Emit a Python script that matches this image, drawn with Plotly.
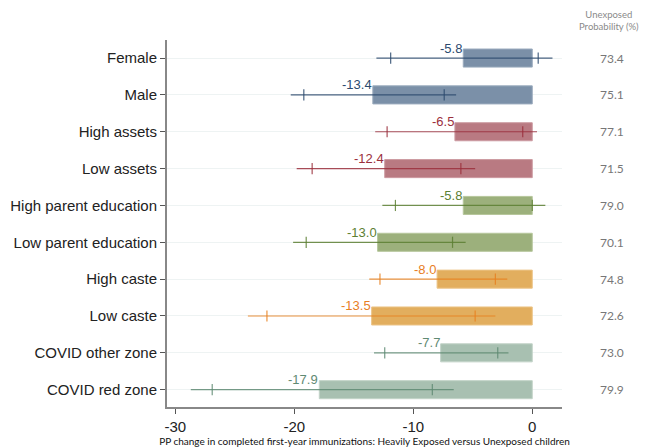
import plotly.graph_objects as go

# データ
categories = [
    "Female", "Male", "High assets", "Low assets",
    "High parent education", "Low parent education",
    "High caste", "Low caste", "COVID other zone", "COVID red zone",
]
estimates = [-5.8, -13.4, -6.5, -12.4, -5.8, -13.0, -8.0, -13.5, -7.7, -17.9]
ci_outer_lo = [-13.1, -20.3, -13.2, -19.8, -12.6, -20.1, -13.7, -23.9, -13.3, -28.7]
ci_outer_hi = [1.7, -6.4, 0.4, -4.8, 1.1, -5.6, -2.1, -3.1, -2.0, -6.6]
ci_inner_lo = [-11.9, -19.2, -12.2, -18.5, -11.5, -19.0, -12.8, -22.3, -12.4, -26.9]
ci_inner_hi = [0.5, -7.4, -0.8, -6.0, 0.0, -6.7, -3.1, -4.8, -2.9, -8.4]
unexposed_prob = [73.4, 75.1, 77.1, 71.5, 79.0, 70.1, 74.8, 72.6, 73.0, 79.9]

# 色（グループごと）
bar_colors = ['#7b90a8', '#7b90a8', '#b97a82', '#b97a82', '#9cb07c', '#9cb07c',
              '#e2ae5e', '#e2ae5e', '#a8c0b1', '#a8c0b1']
edge_colors = ['#9aabbd', '#9aabbd', '#cc9aa1', '#cc9aa1', '#b6c69c', '#b6c69c',
               '#ecc487', '#ecc487', '#c2d3c8', '#c2d3c8']
line_colors = ['#2c4a6e', '#2c4a6e', '#9b2f3c', '#9b2f3c', '#5c7f33', '#5c7f33',
               '#e8801f', '#e8801f', '#5f8a73', '#5f8a73']

fig = go.Figure()

# 棒
fig.add_trace(go.Bar(
    x=estimates,
    y=categories,
    orientation='h',
    width=0.49,
    marker=dict(color=bar_colors, line=dict(color=edge_colors, width=1)),
    showlegend=False,
    hoverinfo='skip',
))

# 信頼区間
for i, cat in enumerate(categories):
    fig.add_trace(go.Scatter(
        x=[ci_outer_lo[i], ci_outer_hi[i]],
        y=[cat, cat],
        mode='lines',
        line=dict(color=line_colors[i], width=1.2),
        opacity=0.85,
        showlegend=False,
        hoverinfo='skip',
    ))
    fig.add_trace(go.Scatter(
        x=[ci_inner_lo[i], ci_inner_hi[i]],
        y=[cat, cat],
        mode='markers',
        marker=dict(symbol='line-ns', size=8,
                    line=dict(color=line_colors[i], width=1.2)),
        opacity=0.85,
        showlegend=False,
        hoverinfo='skip',
    ))

# 数値ラベル
for i, cat in enumerate(categories):
    fig.add_annotation(
        x=estimates[i], y=cat,
        text=f"{estimates[i]:.1f}",
        showarrow=False,
        xanchor='right', yanchor='middle',
        xshift=1, yshift=10,
        font=dict(family='Liberation Sans, Arial', size=13, color=line_colors[i]),
    )

# 右側の確率
fig.add_annotation(
    x=1.12, y=1.0, xref='paper', yref='paper', yshift=20,
    text="Unexposed<br>Probability (%)",
    showarrow=False, xanchor='center', yanchor='middle',
    font=dict(family='Lato', size=9.5, color='#8a8a8a'),
)
for i, cat in enumerate(categories):
    fig.add_annotation(
        x=1.127, y=cat, xref='paper', yref='y',
        text=f"{unexposed_prob[i]:.1f}",
        showarrow=False, xanchor='center', yanchor='middle',
        font=dict(family='Lato', size=12, color='#777777'),
    )

# レイアウト設定（ページ余白8pxを考慮）
fig.update_layout(
    width=642,
    height=439,
    margin=dict(l=159, r=88, t=32, b=40),
    plot_bgcolor='white',
    paper_bgcolor='white',
    bargap=0.5,
    xaxis=dict(
        range=[-30.7, 2.5],
        tickvals=[-30, -20, -10, 0],
        ticktext=['-30', '-20', '-10', '0'],
        ticks='outside', ticklen=5, tickcolor='#555',
        showgrid=False, zeroline=False,
        showline=True, linecolor='#888', linewidth=2,
        automargin=False,
        tickfont=dict(family='Liberation Sans, Arial', size=15, color='#222'),
        title=dict(
            text="PP change in completed first-year immunizations: Heavily Exposed versus Unexposed children",
            font=dict(family='Lato', size=10, color='#111'),
            standoff=3,
        ),
    ),
    yaxis=dict(
        autorange=False,
        range=[9.47, -0.49],
        ticks='outside', ticklen=5, tickcolor='#555',
        showgrid=True, gridcolor='#eef3f3', gridwidth=1,
        showline=True, linecolor='#888', linewidth=2,
        automargin=False,
        tickfont=dict(family='Liberation Sans, Arial', size=15, color='#222'),
    ),
)

fig.write_html("out.html")
